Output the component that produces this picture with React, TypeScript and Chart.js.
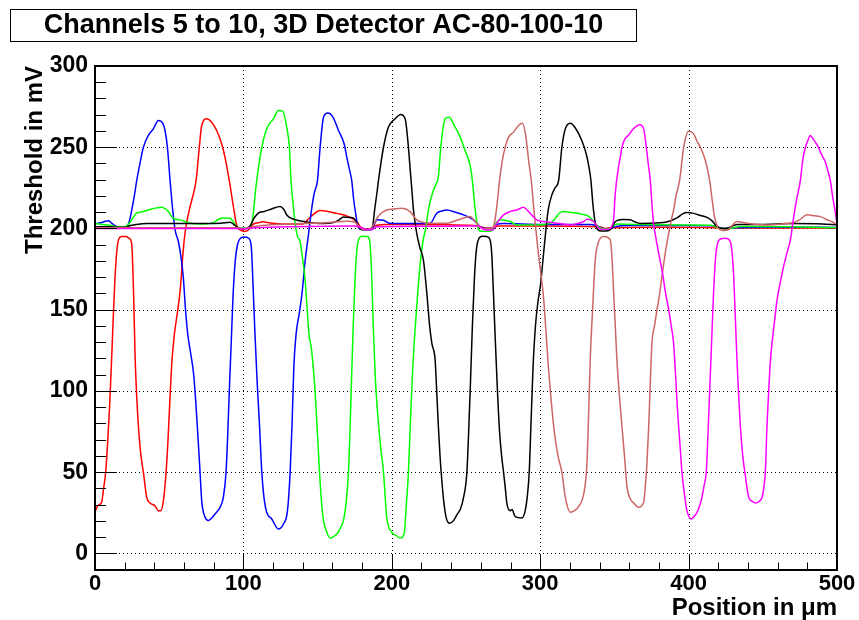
import React, { useEffect, useRef } from "react";
import { Chart, registerables } from "chart.js";

Chart.register(...registerables);

const chartTitle = "Channels 5 to 10, 3D Detector AC-80-100-10";
const xAxisTitle = "Position in \u03bcm";
const yAxisTitle = "Threshold in mV";
const xTickValues = [0, 100, 200, 300, 400, 500];
const yTickValues = [0, 50, 100, 150, 200, 250, 300];
const xMinorStep = 20;
const yMinorStep = 10;

type P = [number, number];

const ch5Red: P[] = [[0,25.5],[2,29.5],[4.5,31.5],[5.6,38.7],[7.2,50],[8.5,68],[9.8,90],[11,115],[12.3,145],[13.5,170],[14.7,186],[16,193.5],[18,195],[21,195],[23,194],[24.7,191],[26,160],[27,122],[28.2,95],[29.5,75],[31,60],[32.6,50],[34.8,34.6],[37.1,31],[40.4,29.4],[42.7,26.3],[44.3,26.3],[46.1,32.5],[47.9,50],[49.2,70],[50.5,95],[51.8,118],[53.5,135],[55.5,148],[57.5,163],[59.3,185],[60.8,198],[62.5,207],[64.5,215],[66.5,222],[68.1,229.4],[70.3,250],[71.9,263.4],[75.3,267.5],[78.6,265.4],[82,260.3],[85.4,252],[87.6,243.8],[90.5,229.4],[93,215],[95.5,202],[98,199],[101,198.2],[104,199.5],[106.5,202.5],[110,203.5],[113,204.2],[117,203.5],[125,202.8],[140,202.8],[143,205],[147,208.5],[151.7,211],[157,210.5],[162.9,209.3],[170.8,207.3],[176.4,204.3],[178.7,201.1],[181,199.5],[185,199.5],[188,201.5],[195,202.5],[220,202.5],[250,202],[258,201.5],[262,200.5],[267,200.3],[272,201.5],[300,201.5],[340,201],[344,200],[348,200.5],[380,200.8],[420,200.5],[425,199.8],[430,200.3],[470,200.3],[500,200.2]];

const ch6Blue: P[] = [[0,203],[4,203.5],[7,204.5],[9,204.8],[11,203.5],[13.5,201.7],[16,200.8],[21,200.9],[23,204],[24.7,211],[26.5,220],[28.1,229.4],[30.5,241],[32.6,250],[35.9,257.2],[39.3,261.3],[42.7,266.5],[45.6,264.8],[47.2,260.3],[48.8,250],[50.6,229.4],[52.3,212],[54,199],[56.2,192],[58,182],[59.5,170],[61,150],[62.5,135],[64.5,123],[66.5,110],[68,92],[69.5,70],[70.8,50],[71.9,32.5],[74.2,22.2],[76.4,20.2],[78.6,21.8],[80.9,24.3],[84.3,28.4],[86.5,34.6],[88.3,50],[89.3,70],[90.5,100],[91.8,130],[93,158],[94.5,180],[96,190],[98,194],[101,194.8],[103.5,194],[105.3,189],[106.5,165],[107.8,135],[109.3,105],[110.8,80],[112.4,50],[113.8,35],[115.7,25.3],[119.1,21.2],[123.6,15],[127,18.1],[129.7,26.3],[131.5,50],[132.8,80],[134,115],[135.5,135],[137.5,147],[139.5,160],[141.6,180],[143.8,196],[146,212],[147.8,222],[149.9,229.4],[151.7,250],[154,268.5],[156.9,271],[160.3,268.5],[164.1,260.3],[167.9,252],[169.7,243.8],[171.3,237],[173,229.4],[174.3,218],[175.5,210],[177.5,200.5],[180,199.2],[186.5,199.2],[188.5,203],[190,205.3],[194.4,205],[198.8,203.2],[210,203],[225.8,203.2],[230.3,209.4],[234,210.8],[237,211.4],[243,210],[248.3,208.4],[255,205.3],[259.5,201.2],[263,200],[268,200],[271,202.5],[275,203],[300,202.5],[333,202.5],[338,201.8],[342,200],[347,199.8],[350,201],[360,201.8],[400,201.8],[418,201.5],[422,200.2],[427,200],[432,200.5],[460,200.8],[500,200.6]];

const ch7Green: P[] = [[0,203],[5,202.5],[10,202],[14,201],[20,201],[23,203],[24.7,205.3],[28,209.4],[32.6,210.4],[38.2,212],[45,213],[47.5,212],[49.4,210.4],[51.5,207.5],[53.5,205.8],[57.3,205.3],[64,203.2],[73,202.8],[79.8,203.6],[83,205.5],[86,206.5],[91,206.3],[93.3,204],[95,201.5],[97,200],[102,200],[104.5,201],[105.8,204],[107,212],[108,222],[109,229.4],[110.6,240],[112.4,250],[115.7,261.3],[120.2,267.5],[123.6,272.6],[126.5,272.2],[129.2,262.3],[131,250],[132.1,229.4],[133.5,215],[135,202],[136.5,195],[138.2,192],[139.8,182],[141.6,168],[143,150],[144.2,135],[145.8,126],[147.3,112],[148.6,95],[150,72],[151.3,50],[152.6,32],[154,20.2],[156,13.5],[158.4,9.5],[162.9,11.9],[165,15],[167.4,20.2],[169.3,32],[170.8,50],[171.8,75],[172.8,105],[174,140],[175.3,170],[176.5,187],[178,194],[180,195.2],[183.5,195],[185,193],[186.3,175],[187.5,140],[188.8,110],[190.3,88],[192.2,68],[194.4,50],[196.6,22.2],[200,13],[203,11],[205.6,9.5],[208.3,12],[209.8,30],[211.2,50],[212.5,80],[214,112],[215.7,138],[217.3,158],[219,177],[221,192],[222.8,200],[225,213],[227.5,222],[229.6,227],[231.4,232],[233,250],[235.9,267.5],[238.8,268.5],[241.5,264.4],[246.1,256.2],[249.4,248],[252.8,238.7],[254.3,229.4],[255.5,218],[256.8,207],[258.4,199.5],[260,198.3],[266,198.3],[268.5,199.5],[270.5,203.5],[273,205.3],[279.7,204.3],[284.2,202.2],[297.7,202.2],[306.7,203.2],[310,206],[313,209.5],[315.7,210.4],[320,210],[324.7,209.4],[328,208.8],[333,207.3],[337,203.2],[340,200.5],[343,199.8],[347,200],[350,202],[352,202.8],[365,202.5],[380,202.3],[400,202.2],[415,202],[420,200.5],[425,199.8],[429,200.2],[435,201.2],[470,201],[500,200.5]];

const ch8Black: P[] = [[0,201],[10,201],[14,200.7],[20,200.7],[24,201.8],[28,202.5],[35,203],[60,203],[85,203.2],[91,203.8],[93.5,202.5],[95.5,201],[98,200],[102,200],[104.5,201.5],[107,206],[110,209.5],[114,210.5],[119,212],[124.7,213.5],[127,212],[129.5,208],[133,206],[142.7,204],[153.9,203],[160,203.5],[164,205],[167.4,207],[172,206.8],[174,206.5],[176,204],[177.5,201],[180,199.3],[185,199.3],[187,201],[188.5,212],[190,222],[191,229.4],[194.4,250],[197.7,262.3],[202.2,267.5],[206,270.2],[209,267.5],[211.2,250],[212.5,235],[213.5,224],[214.6,211.4],[216.8,197],[219,188],[221.3,180.6],[223.6,160.1],[225.5,140],[227,129.3],[229.2,119],[230.5,95],[231.4,78],[232.5,60],[233.7,45],[235,32],[236.6,22.2],[238.9,18.5],[241.6,20.2],[244,24],[246.1,27],[248,33],[250.6,50],[251.8,75],[253,105],[254.3,140],[255.7,170],[257,187],[258.8,194],[261,195.2],[264,195],[266,193.5],[267.3,185],[268.5,160],[269.8,130],[271.2,100],[272.6,75],[274,60],[275.3,50],[276.5,40],[277.6,30.5],[279.8,26.3],[281,27],[283.2,22.6],[287.7,21.8],[289.9,26.3],[291.3,35],[292.6,50],[293.8,80],[295.2,115],[296.8,140],[298.5,155],[300.3,166],[302,182],[303.6,197],[305.5,212],[308,221],[310,225],[312.4,229.4],[314.6,250],[316.9,261.3],[320.3,264.8],[323.6,262],[328.1,254],[331,246],[332.8,238],[334.2,229.4],[335.5,215],[337,204],[339,199],[341,198.5],[345,198.5],[348,200],[350,203.5],[351.7,204.8],[356,205.5],[360.7,205.3],[364,204],[367.4,203.1],[380.9,203.5],[385,204],[389.9,205.5],[393,207],[396,209],[398.9,209.8],[403.4,209.3],[408,208],[412.4,206.8],[416,204.5],[419.2,201.1],[423.7,200],[427,200.5],[432.7,202.5],[448.4,202.5],[470,203],[490,202.8],[500,202.3]];

const ch9Brown: P[] = [[0,200.5],[50,200.5],[95,200.5],[100,199.6],[104,200.5],[110,201.5],[125,202.5],[140,203],[155,203.5],[170,204.5],[175,204],[178,201],[181,199.3],[185,199.3],[187.5,202],[190,206.3],[193,209.5],[196.6,211.4],[201,212],[206.7,212.4],[212.3,210.4],[216.8,205.3],[220,204],[225.8,203.2],[237,203.2],[242,204.5],[246,205.7],[252.8,207.3],[255,205.5],[257.3,203.2],[259.5,201],[261.8,200],[267,200],[268.8,202],[270,208],[271.3,218],[272.6,229.4],[274.5,242],[276.4,250],[278.7,256.2],[282,259.3],[285.4,263.4],[288.1,264.8],[290.4,256.2],[292.2,241.8],[294,229.4],[295.5,214],[297,200],[298.5,187],[300.5,172],[302.5,155],[304,135],[305.5,115],[307.3,95],[309.5,75],[312,60],[314.6,50],[316.9,34.6],[320.3,25.3],[323.6,26.7],[326,29],[328.1,32.5],[330,40],[331.5,55],[332.6,85],[333.7,119],[335.3,150],[337.1,180.6],[339,191],[340.5,194],[343,195],[347.2,193],[348.5,180],[349.5,160],[350.6,140],[351.7,119],[353.3,98],[355.1,78],[356.8,60],[358.5,41],[360.5,34],[363,31],[366.3,28.4],[369.7,31.5],[370.8,41],[371.9,55],[373.1,78],[374.2,105],[375.3,129.3],[377,140],[378.7,149.9],[380.5,160],[382,170.4],[384.3,185],[386.6,197],[388.3,205],[389.9,211.4],[391.5,220],[393.9,229.4],[396.7,250],[400,259.9],[403.4,258.2],[405.5,254],[407.9,250],[411.3,241.8],[414.2,229.4],[415.8,218],[417.3,208],[419,202],[421,199.3],[423.6,198.8],[427,199.3],[429.5,202],[432.6,204.3],[436,203.8],[439.4,203.2],[452.8,202.2],[465,203],[470.8,203.6],[475,205.5],[479.8,208.4],[485,207.8],[488.8,207.3],[493,205.5],[497,204],[500,202.5]];

const ch10Magenta: P[] = [[0,200],[40,200],[95,200],[100,199.5],[105,200.3],[130,201],[175,201.5],[180,200.5],[183,199.3],[187,199.5],[190,201],[220,201.3],[250,201.5],[258,201.5],[261,200],[264,199],[268,199],[270.8,203.2],[273,206],[275.3,208.4],[280,210.5],[284.2,211.4],[288.7,213],[291,211.5],[293.2,209.4],[297.7,205.3],[302,204.3],[306.7,203.8],[313,203],[320.2,202.2],[325,203],[329.2,204.2],[331.5,205.7],[336,204.3],[339.4,200.1],[341.6,199.5],[346,199.5],[348,201],[349.5,206],[350.6,221.7],[352.8,238],[354,244],[355.1,250],[357,255],[359.6,257.5],[363,261.5],[367,263.8],[369.7,261.3],[371.5,250],[372.8,240],[374.2,229.4],[375.3,215],[376.4,203],[377.8,195],[379.8,185],[382.5,172],[384.5,160],[386.6,150],[388.3,140],[389.9,129.3],[391.2,110],[392.3,92],[393.3,78],[394.5,63],[395.5,50],[397,38],[398.9,26.3],[401.8,21.2],[403.5,22.5],[405.7,25.3],[407.5,29.5],[409,34.6],[410.5,42],[411.9,50],[413,72],[414.2,100],[415.5,130],[416.8,160],[418,180],[419.1,189],[421.4,193.5],[425,194],[428.1,192],[429.3,185],[430.4,170.4],[431.5,145],[432.6,119],[433.7,98],[434.9,78],[436.5,60],[438.2,48],[440.5,34.6],[443,32],[445,31],[447.5,32],[449.5,34.6],[450.6,40],[451.7,50],[452.8,78],[454,100],[455,117],[456.2,129.3],[457.9,143],[459.6,156],[461.8,167],[464,176.5],[466.3,185],[468.6,193],[470.8,207],[473,219],[475.3,229.4],[476.9,242],[478.7,250],[480.3,254],[482,257.2],[484,255],[485.4,253.1],[487.5,250],[488.8,247],[490.5,244],[492.2,240.7],[494,235],[495.5,229.4],[497,220],[498.5,212],[500,203]];

const seriesNames = ["Channel 5", "Channel 6", "Channel 7", "Channel 8", "Channel 9", "Channel 10"];
const seriesData = [ch5Red, ch6Blue, ch7Green, ch8Black, ch9Brown, ch10Magenta];
const seriesColors = ["#ff0000", "#0000ff", "#00ff00", "#000000", "#cc6666", "#ff00ff"];

const FONT = '"Liberation Sans", Arial, Helvetica, sans-serif';

const rootStyle = {
  id: "rootStyle",
  beforeDraw(chart: any) {
    const ctx = chart.ctx;
    ctx.save();
    ctx.fillStyle = "#ffffff";
    ctx.fillRect(0, 0, chart.width, chart.height);
    ctx.restore();
  },
  beforeDatasetsDraw(chart: any) {
    const { ctx, chartArea: a, scales } = chart;
    const xs = scales.x, ys = scales.y;
    ctx.save();
    ctx.strokeStyle = "#000";
    ctx.lineWidth = 1;
    ctx.setLineDash([1, 3]);
    ctx.beginPath();
    for (const v of xTickValues) {
      if (v <= xs.min || v >= xs.max) continue;
      const px = Math.round(xs.getPixelForValue(v)) + 0.5;
      ctx.moveTo(px, a.top);
      ctx.lineTo(px, a.bottom);
    }
    for (const v of yTickValues) {
      if (v <= ys.min || v >= ys.max) continue;
      const py = Math.round(ys.getPixelForValue(v)) + 0.5;
      ctx.moveTo(a.left, py);
      ctx.lineTo(a.right, py);
    }
    ctx.stroke();
    ctx.restore();
  },
  afterDatasetsDraw(chart: any) {
    const { ctx, chartArea: a, scales } = chart;
    const xs = scales.x, ys = scales.y;
    ctx.save();
    ctx.setLineDash([]);
    ctx.strokeStyle = "#000";
    ctx.lineWidth = 1;
    ctx.beginPath();
    for (let v = 0; v <= 500; v += xMinorStep) {
      const px = Math.round(xs.getPixelForValue(v)) + 0.5;
      const major = xTickValues.includes(v);
      ctx.moveTo(px, a.bottom);
      ctx.lineTo(px, a.bottom - (major ? 15 : 7.5));
    }
    for (let v = 0; v <= 300; v += yMinorStep) {
      const py = Math.round(ys.getPixelForValue(v)) + 0.5;
      const major = yTickValues.includes(v);
      ctx.moveTo(a.left, py);
      ctx.lineTo(a.left + (major ? 22 : 11), py);
    }
    ctx.stroke();
    ctx.lineWidth = 2;
    ctx.strokeRect(a.left, a.top, a.right - a.left, a.bottom - a.top);

    ctx.fillStyle = "#000";
    ctx.font = `bold 22px ${FONT}`;
    ctx.textAlign = "center";
    ctx.textBaseline = "middle";
    for (const v of xTickValues) {
      ctx.fillText(String(v), xs.getPixelForValue(v), a.bottom + 14);
    }
    ctx.font = `bold 23px ${FONT}`;
    ctx.textAlign = "right";
    for (const v of yTickValues) {
      ctx.fillText(String(v), a.left - 7, ys.getPixelForValue(v));
    }
    ctx.font = `bold 24px ${FONT}`;
    ctx.textAlign = "right";
    ctx.textBaseline = "middle";
    ctx.fillText(xAxisTitle, a.right, a.bottom + 38);
    ctx.save();
    ctx.translate(35, a.top);
    ctx.rotate(-Math.PI / 2);
    ctx.fillText(yAxisTitle, 0, 0);
    ctx.restore();
    ctx.lineWidth = 1;
    ctx.fillStyle = "#fff";
    ctx.fillRect(10.5, 9.5, 626, 32);
    ctx.strokeRect(10.5, 9.5, 626, 32);
    ctx.fillStyle = "#000";
    ctx.font = `bold 27px ${FONT}`;
    ctx.textAlign = "center";
    ctx.fillText(chartTitle, 323.5, 26);
    ctx.restore();
  },
};

export default function App() {
  const ref = useRef<HTMLCanvasElement | null>(null);
  useEffect(() => {
    document.body.style.margin = "0";
    const canvas = ref.current!;
    const chart = new Chart(canvas, {
      type: "line",
      data: {
        datasets: seriesData.map((d, i) => ({
          label: seriesNames[i],
          data: d.map(([x, y]) => ({ x, y })),
          borderColor: seriesColors[i],
          backgroundColor: seriesColors[i],
          borderWidth: 1.5,
          pointRadius: 0,
          fill: false,
          cubicInterpolationMode: "monotone" as const,
          order: seriesData.length - 1 - i,
        })),
      },
      options: {
        animation: false,
        responsive: false,
        devicePixelRatio: 1,
        layout: { padding: { left: 95, right: 22, top: 66, bottom: 50 } },
        plugins: { legend: { display: false }, tooltip: { enabled: false }, title: { display: false } },
        scales: {
          x: { type: "linear", min: 0, max: 500, display: false },
          y: { type: "linear", min: -10.2, max: 300, display: false },
        },
      },
      plugins: [rootStyle],
    });
    return () => chart.destroy();
  }, []);
  return <canvas ref={ref} width={859} height={620} style={{ display: "block" }} />;
}
